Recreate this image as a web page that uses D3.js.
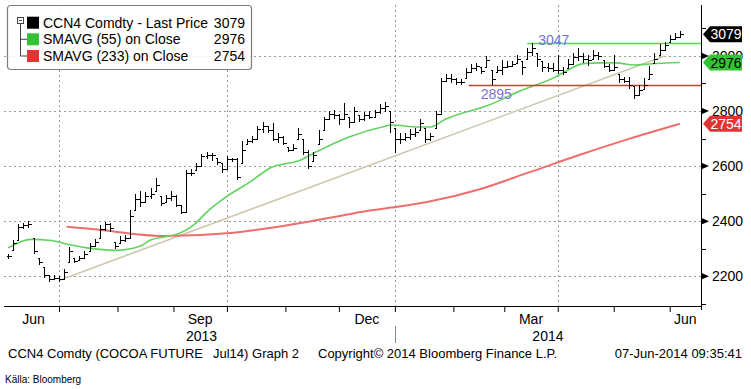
<!DOCTYPE html>
<html><head><meta charset="utf-8">
<script src="https://cdn.jsdelivr.net/npm/d3@7/dist/d3.min.js"></script>
<style>
body{margin:0;background:#fff}
svg{display:block;font-family:"Liberation Sans",Arial,sans-serif}
</style>
</head><body>
<svg id="chart" width="751" height="389"></svg>
<script>
// ---------- DATA ----------
const firstTradingDay = [2013, 5, 3];      // 3 Jun 2013
const tradingDaysPerBar = 2;
const closes = [2272,2320,2380,2385,2390,2290,2250,2205,2190,2195,
 2190,2215,2290,2255,2268,2280,2310,2325,2370,2390,
 2375,2310,2330,2340,2420,2480,2470,2490,2500,2530,
 2465,2485,2490,2460,2435,2575,2575,2600,2635,2640,
 2640,2615,2590,2625,2625,2560,2660,2690,2700,2735,
 2745,2730,2700,2705,2685,2660,2665,2715,2650,2600,
 2640,2700,2770,2790,2785,2770,2790,2760,2800,2770,
 2785,2780,2795,2810,2820,2760,2700,2700,2705,2715,
 2725,2755,2700,2710,2790,2910,2920,2915,2905,2905,
 2940,2955,2965,2945,2985,2915,2950,2960,2965,2970,
 2990,2960,3015,3030,2990,2960,2955,2950,2950,2940,
 2970,2995,3000,2990,2985,3005,3000,2965,2950,2960,
 2915,2910,2895,2860,2875,2895,2935,2990,3020,3040,
 3060,3070,3079];
const highs = [2280,2330,2390,2395,2400,2340,2265,2235,2205,2205,
 2200,2225,2305,2265,2275,2290,2320,2335,2385,2398,
 2395,2325,2345,2350,2440,2500,2510,2505,2520,2555,
 2490,2495,2510,2495,2460,2585,2590,2610,2645,2650,
 2648,2630,2610,2635,2630,2630,2690,2700,2710,2745,
 2760,2745,2755,2720,2710,2670,2680,2740,2700,2660,
 2650,2730,2780,2800,2805,2790,2830,2780,2815,2785,
 2795,2800,2805,2825,2832,2800,2740,2720,2720,2735,
 2740,2770,2740,2720,2800,2920,2935,2935,2920,2915,
 2955,2970,2975,2960,3000,2950,2965,2985,2980,2980,
 3005,2980,3030,3047,3010,2980,2975,2975,3005,2960,
 2990,3010,3030,3010,3005,3020,3015,2985,2970,3005,
 2935,2925,2925,2890,2895,2920,2965,3010,3045,3050,
 3075,3085,3090];
const lows = [2262,2295,2330,2370,2375,2280,2240,2195,2180,2185,
 2180,2190,2250,2248,2260,2265,2290,2310,2340,2365,
 2360,2300,2320,2325,2340,2440,2450,2470,2480,2510,
 2455,2470,2475,2450,2425,2430,2565,2585,2600,2625,
 2620,2605,2575,2590,2615,2550,2610,2680,2685,2695,
 2720,2720,2690,2685,2675,2650,2655,2700,2640,2590,
 2620,2680,2730,2770,2770,2750,2770,2740,2760,2760,
 2765,2770,2780,2790,2795,2720,2646,2680,2690,2695,
 2705,2730,2683,2690,2740,2790,2905,2900,2895,2895,
 2920,2940,2945,2935,2960,2895,2940,2930,2955,2960,
 2975,2930,2990,3000,2960,2940,2940,2940,2935,2930,
 2955,2970,2980,2975,2965,2990,2985,2955,2940,2945,
 2900,2900,2880,2845,2860,2880,2915,2975,3005,3020,
 3050,3060,3070];
// [trading day index, value]
const sma55 = [[0,2303],[9,2334],[17,2330],[23,2317],[31,2303],[42,2294],[52,2310],[56,2332],
 [62,2344],[66,2352],[73,2387],[79,2441],[85,2484],[95,2542],[103,2593],[115,2622],[121,2651],
 [134,2706],[147,2742],[151,2749],[161,2742],[166,2742],[172,2771],[189,2822],[202,2876],
 [215,2923],[220,2949],[226,2972],[233,2975],[239,2975],[246,2967],[252,2971],[264,2976]];
const sma233 = [[23,2380],[33,2372],[42,2362],[62,2346],[86,2356],[102,2374],[115,2393],
 [128,2415],[141,2437],[153,2452],[166,2472],[185,2515],[205,2578],[225,2642],[244,2699],[264,2754]];
const trendLine = [[20,2185],[258,3000]];
const levelValues = [3047, 2895];
const levelStartDays = [204, 181];
const levelColors = ["#4cdc4c", "#ff2b2b"];
const yTickValues = [2200, 2400, 2600, 2800, 3000];
const yMinorValues = [2100, 2300, 2500, 2700, 2900, 3100];
const legendNames = ["CCN4 Comdty - Last Price", "SMAVG (55) on Close", "SMAVG (233) on Close"];
const legendValues = [3079, 2976, 2754];
const seriesColors = ["#000000", "#33c233", "#e03535"];
const monthNames = ["Jan","Feb","Mar","Apr","May","Jun","Jul","Aug","Sep","Oct","Nov","Dec"];
const labelledMonths = [5, 8, 11, 2];   // Jun, Sep, Dec, Mar
const gridMonths = [6, 9, 0, 3];        // Jul, Oct, Jan, Apr
const footerParts = ["CCN4 Comdty (COCOA FUTURE", "Jul14) Graph 2", "Copyright\u00A9 2014 Bloomberg Finance L.P.", "07-Jun-2014 09:35:41"];
const sourceText = "K\u00E4lla: Bloomberg";

// ---------- LAYOUT ----------
const L = 4, R = 701, T = 5, B = 306;
const svg = d3.select("#chart");
const x = d3.scaleLinear().domain([-1.6, 272.3]).range([L, R]);
const y = d3.scaleLinear().domain([2092, 3185]).range([B, T]);

// trading-day calendar (weekdays)
const days = [];
{
  const d = new Date(firstTradingDay[0], firstTradingDay[1], firstTradingDay[2]);
  while (days.length < 275) {
    if (d.getDay() !== 0 && d.getDay() !== 6) days.push(new Date(d));
    d.setDate(d.getDate() + 1);
  }
}
const monthStarts = [];
days.forEach((d, i) => {
  if (i === 0 || d.getMonth() !== days[i - 1].getMonth()) monthStarts.push({i, m: d.getMonth(), yr: d.getFullYear()});
});

svg.append("defs").append("clipPath").attr("id", "clip")
  .append("rect").attr("x", L).attr("y", T).attr("width", R - L).attr("height", B - T);

// grid
const grid = svg.append("g").attr("stroke", "#9a9a9a").attr("stroke-dasharray", "2,3").attr("stroke-width", 1);
yTickValues.forEach(v => {
  const yy = Math.round(y(v)) + 0.5;
  grid.append("line").attr("x1", L).attr("x2", R).attr("y1", yy).attr("y2", yy);
});
monthStarts.filter(m => m.i > 0 && gridMonths.includes(m.m)).forEach(m => {
  const xx = Math.round(x(m.i)) + 0.5;
  grid.append("line").attr("x1", xx).attr("x2", xx).attr("y1", T).attr("y2", B);
});

const plot = svg.append("g").attr("clip-path", "url(#clip)");

// moving averages and trend
const line = d3.line().x(d => x(d[0])).y(d => y(d[1])).curve(d3.curveMonotoneX);
plot.append("path").attr("d", line(trendLine)).attr("fill", "none").attr("stroke", "#cdc8ac").attr("stroke-width", 1.6);
plot.append("path").attr("d", line(sma233)).attr("fill", "none").attr("stroke", "#ee6e6e").attr("stroke-width", 2);
plot.append("path").attr("d", line(sma55)).attr("fill", "none").attr("stroke", "#62d262").attr("stroke-width", 1.6);

// horizontal levels
levelValues.forEach((v, i) => {
  const yy = Math.round(y(v)) + 0.5;
  plot.append("line").attr("x1", x(levelStartDays[i])).attr("x2", R).attr("y1", yy).attr("y2", yy)
    .attr("stroke", levelColors[i]).attr("stroke-width", 1.6);
});
plot.append("text").attr("x", x(levelStartDays[0]) + 11).attr("y", y(levelValues[0]) + 2)
  .attr("font-size", 14).attr("fill", "#7474d6").text(levelValues[0]);
plot.append("text").attr("x", x(levelStartDays[1]) + 12).attr("y", y(levelValues[1]) + 14)
  .attr("font-size", 14).attr("fill", "#7474d6").text(levelValues[1]);

// OHLC bars
const bars = plot.append("g").attr("stroke", "#000").attr("stroke-width", 1).attr("shape-rendering", "crispEdges");
closes.forEach((c, i) => {
  const xx = Math.round(x(i * tradingDaysPerBar)) + 0.5;
  const hi = highs[i], lo = lows[i];
  const op = Math.max(lo, Math.min(hi, i === 0 ? c : closes[i - 1]));
  bars.append("line").attr("x1", xx).attr("x2", xx).attr("y1", y(hi)).attr("y2", y(lo));
  bars.append("line").attr("x1", xx - 2).attr("x2", xx).attr("y1", Math.round(y(op)) + 0.5).attr("y2", Math.round(y(op)) + 0.5);
  bars.append("line").attr("x1", xx).attr("x2", xx + 3).attr("y1", Math.round(y(c)) + 0.5).attr("y2", Math.round(y(c)) + 0.5);
});

// right axis
const ax = svg.append("g").attr("transform", `translate(${R},0)`)
  .call(d3.axisRight(y).tickValues(yTickValues).tickSize(0).tickPadding(11).tickFormat(d3.format("d")));
ax.select(".domain").remove();
ax.selectAll("text").attr("font-size", 14).attr("fill", "#000").attr("font-family", "Liberation Sans, Arial, sans-serif");
svg.append("line").attr("x1", R + 0.5).attr("x2", R + 0.5).attr("y1", T).attr("y2", B + 4).attr("stroke", "#000");
yTickValues.forEach(v => {
  const yy = y(v);
  svg.append("path").attr("d", `M${R},${yy - 3.5}L${R + 8},${yy}L${R},${yy + 3.5}Z`).attr("fill", "#000");
});
yMinorValues.forEach(v => {
  const yy = Math.round(y(v)) + 0.5;
  if (yy > T && yy < B) svg.append("line").attr("x1", R).attr("x2", R + 5).attr("y1", yy).attr("y2", yy).attr("stroke", "#000");
});

// bottom axis
const bx = svg.append("g").attr("transform", `translate(0,${B})`)
  .call(d3.axisBottom(x).tickValues(monthStarts.filter(m => m.i > 0).map(m => m.i)).tickSize(6).tickFormat(""));
bx.select(".domain").remove();
bx.selectAll("line").attr("stroke", "#000");
svg.append("line").attr("x1", L).attr("x2", R).attr("y1", B + 0.5).attr("y2", B + 0.5).attr("stroke", "#000");
monthStarts.forEach((m, k) => {
  if (!labelledMonths.includes(m.m)) return;
  const x0 = Math.max(L, x(m.i));
  const x1 = k + 1 < monthStarts.length ? Math.min(R, x(monthStarts[k + 1].i)) : R;
  svg.append("text").attr("x", (x0 + x1) / 2).attr("y", 324).attr("text-anchor", "middle")
    .attr("font-size", 14).text(monthNames[m.m]);
});
// years
const yearGroups = d3.groups(monthStarts, m => m.yr);
yearGroups.forEach(([yr, ms], k) => {
  const x0 = Math.max(L, x(ms[0].i));
  const x1 = k + 1 < yearGroups.length ? x(yearGroups[k + 1][1][0].i) : R;
  svg.append("text").attr("x", (x0 + x1) / 2).attr("y", 341).attr("text-anchor", "middle")
    .attr("font-size", 14).text(yr);
  if (k > 0) svg.append("line").attr("x1", Math.round(x0) + 0.5).attr("x2", Math.round(x0) + 0.5)
    .attr("y1", 326).attr("y2", 343).attr("stroke", "#888");
});

// value tags
legendValues.forEach((v, i) => {
  const cy = y(v);
  svg.append("path").attr("d", `M${R + 2},${cy}L${R + 9},${cy - 8}L${R + 41},${cy - 8}L${R + 41},${cy + 8}L${R + 9},${cy + 8}Z`)
    .attr("fill", seriesColors[i]);
  svg.append("text").attr("x", R + 25).attr("y", cy + 5).attr("text-anchor", "middle").attr("font-size", 14)
    .attr("fill", i === 1 ? "#000" : "#fff").text(v);
});

// legend
const lg = svg.append("g");
lg.append("rect").attr("x", 7.5).attr("y", 5.5).attr("width", 244).attr("height", 64).attr("rx", 3)
  .attr("fill", "#fff").attr("fill-opacity", 0.85).attr("stroke", "#7d7d7d").attr("stroke-width", 1.2);
const rowY = [22.7, 39.3, 56];
lg.append("rect").attr("x", 17.5).attr("y", 17.5).attr("width", 6).attr("height", 6).attr("fill", "#fff").attr("stroke", "#444");
lg.append("line").attr("x1", 19).attr("x2", 22).attr("y1", 20.5).attr("y2", 20.5).attr("stroke", "#444");
lg.append("path").attr("d", `M20.5,23.5V${rowY[2]}H27M20.5,${rowY[1]}H27`).attr("fill", "none").attr("stroke", "#444");
legendNames.forEach((n, i) => {
  lg.append("rect").attr("x", 27).attr("y", rowY[i] - 6).attr("width", 12).attr("height", 12).attr("fill", seriesColors[i]);
  lg.append("text").attr("x", 43).attr("y", rowY[i] + 5).attr("font-size", 14).text(n);
  lg.append("text").attr("x", 245).attr("y", rowY[i] + 5).attr("font-size", 14).attr("text-anchor", "end").text(legendValues[i]);
});

// footer
const fx = [8, 213, 318];
footerParts.forEach((t, i) => {
  const tx = svg.append("text").attr("y", 358).attr("font-size", 13).text(t);
  if (i < 3) tx.attr("x", fx[i]); else tx.attr("x", 742).attr("text-anchor", "end");
});
svg.append("text").attr("x", 5).attr("y", 383).attr("font-size", 10).text(sourceText);
</script>
</body></html>
